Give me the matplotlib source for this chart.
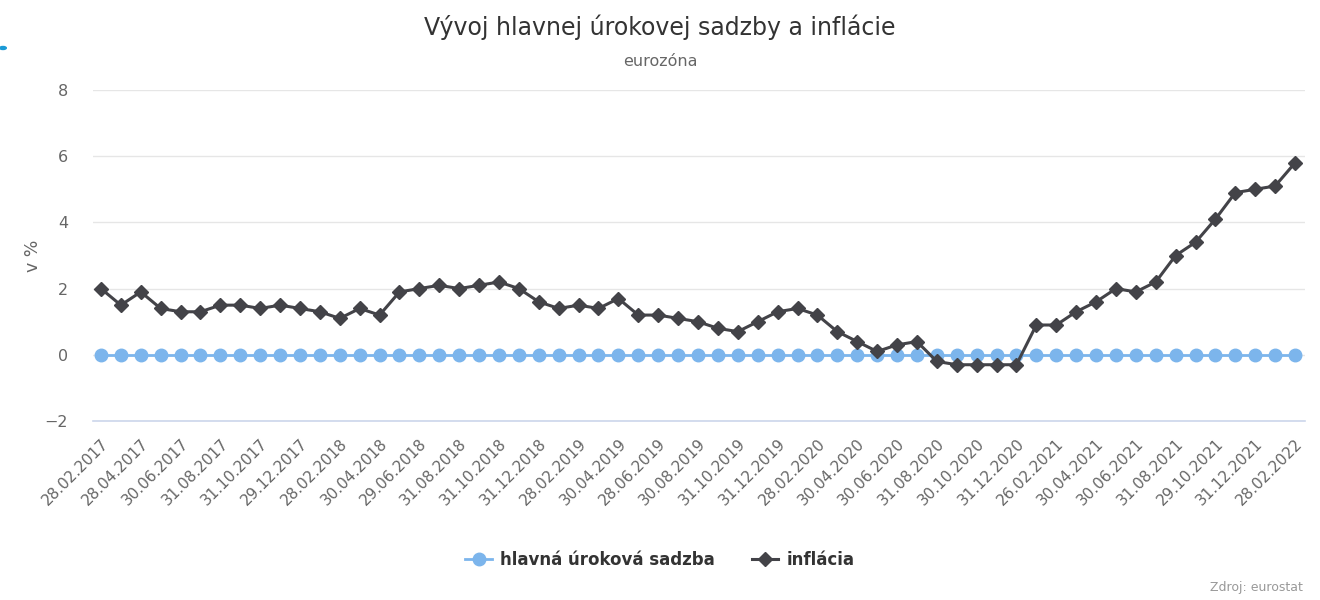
import matplotlib
matplotlib.use("Agg")
from matplotlib import pyplot as plt
from matplotlib.patches import Circle
import numpy as np

# monthly values 02/2017 - 02/2022
inflacia = [2.0, 1.5, 1.9, 1.4, 1.3, 1.3, 1.5, 1.5, 1.4, 1.5, 1.4,
            1.3, 1.1, 1.4, 1.2, 1.9, 2.0, 2.1, 2.0, 2.1, 2.2, 2.0, 1.6,
            1.4, 1.5, 1.4, 1.7, 1.2, 1.2, 1.1, 1.0, 0.8, 0.7, 1.0, 1.3,
            1.4, 1.2, 0.7, 0.4, 0.1, 0.3, 0.4, -0.2, -0.3, -0.3, -0.3, -0.3,
            0.9, 0.9, 1.3, 1.6, 2.0, 1.9, 2.2, 3.0, 3.4, 4.1, 4.9, 5.0,
            5.1, 5.8]
sadzba = [0.0] * len(inflacia)

tick_labels = ['28.02.2017', '28.04.2017', '30.06.2017', '31.08.2017', '31.10.2017',
               '29.12.2017', '28.02.2018', '30.04.2018', '29.06.2018', '31.08.2018',
               '31.10.2018', '31.12.2018', '28.02.2019', '30.04.2019', '28.06.2019',
               '30.08.2019', '31.10.2019', '31.12.2019', '28.02.2020', '30.04.2020',
               '30.06.2020', '31.08.2020', '30.10.2020', '31.12.2020', '26.02.2021',
               '30.04.2021', '30.06.2021', '31.08.2021', '29.10.2021', '31.12.2021',
               '28.02.2022']

plt.rcParams['font.family'] = ['DejaVu Sans']

x = np.arange(len(inflacia))

fig = plt.figure(figsize=(13.2, 6), dpi=100)
ax = fig.add_axes([93 / 1320, 1 - 421 / 600, (1305 - 93) / 1320, (421 - 90) / 600])

ax.plot(x, sadzba, '-o', color='#7cb5ec', linewidth=2, markersize=9,
        label='hlavná úroková sadzba', zorder=3)
ax.plot(x, inflacia, '-D', color='#434348', linewidth=2.2, markersize=7,
        label='inflácia', zorder=4)

ax.set_xlim(-0.4, len(x) - 0.5)
ax.set_ylim(-2, 8)
ax.set_yticks([-2, 0, 2, 4, 6, 8])
ax.set_yticklabels(['−2', '0', '2', '4', '6', '8'])
ax.grid(axis='y', color='#e6e6e6', linewidth=1)
ax.set_axisbelow(True)
for s in ['left', 'right', 'top']:
    ax.spines[s].set_visible(False)
ax.spines['bottom'].set_color('#ccd6eb')
ax.spines['bottom'].set_linewidth(1.2)
ax.tick_params(axis='y', length=0, pad=18, labelsize=11.5, labelcolor='#666666')
ax.tick_params(axis='x', length=0, pad=11, labelsize=11, labelcolor='#666666')

ax.set_xticks(x[::2])
ax.set_xticklabels(tick_labels, rotation=45, ha='right', va='top',
                   rotation_mode='anchor')
ax.set_ylabel('v %', fontsize=12.5, color='#666666', labelpad=2)

fig.text(0.5, 1 - 27 / 600, 'Vývoj hlavnej úrokovej sadzby a inflácie',
         ha='center', va='center', fontsize=17, color='#333333')
fig.text(0.5, 1 - 62 / 600, 'eurozóna', ha='center', va='center',
         fontsize=11.5, color='#666666')
fig.text(1303 / 1320, 1 - 588 / 600, 'Zdroj: eurostat', ha='right', va='center',
         fontsize=9, color='#999999')

fig.legend(loc='center', bbox_to_anchor=(0.5, 1 - 560 / 600), ncol=2,
           frameon=False, handlelength=1.6, columnspacing=2.2, handletextpad=0.5,
           prop={'weight': 'bold', 'size': 12}, labelcolor='#333333')

fig.add_artist(Circle((3 / 1320, 1 - 48 / 600), 0.0025, transform=fig.transFigure,
                      color='#1a9ad6'))

fig.savefig('out.png', dpi=100)
